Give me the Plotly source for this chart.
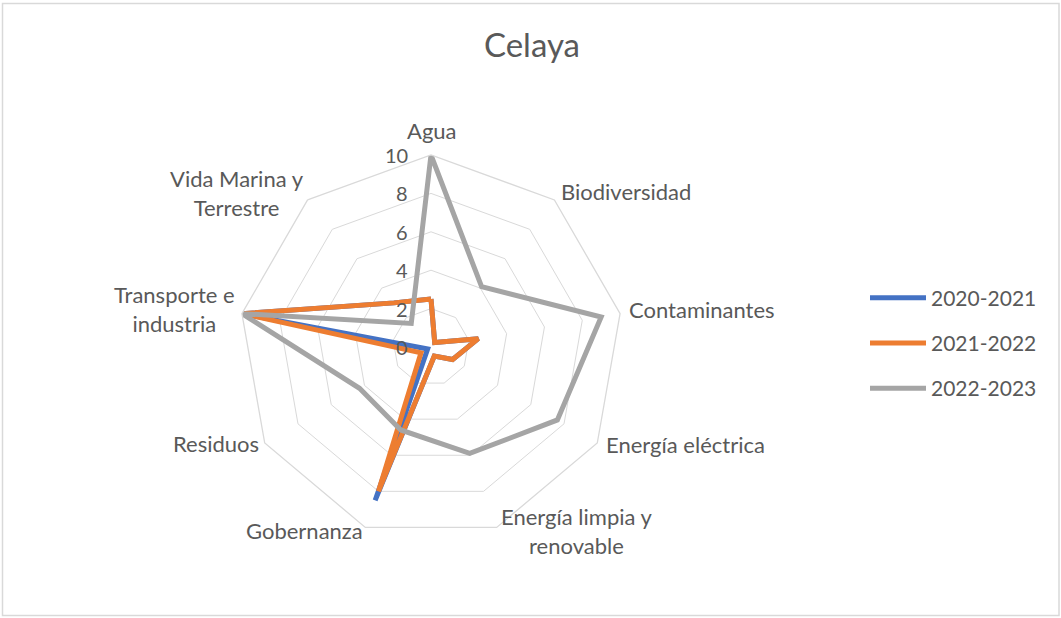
import plotly.graph_objects as go

categories = ["Agua", "Biodiversidad", "Contaminantes", "Energía eléctrica",
              "Energía limpia y renovable", "Gobernanza", "Residuos",
              "Transporte e industria", "Vida Marina y Terrestre"]
tick_labels = ["Agua", "Biodiversidad", "Contaminantes", "Energía eléctrica",
               "Energía limpia y<br>renovable", "Gobernanza", "Residuos",
               "Transporte e<br>industria", "Vida Marina y<br>Terrestre"]
series_names = ["2020-2021", "2021-2022", "2022-2023"]
s2020_2021 = [2.5, 0.3, 2.5, 1.3, 0.5, 8.5, 0.2, 10, 3]
s2021_2022 = [2.5, 0.3, 2.5, 1.3, 0.5, 8.0, 0.6, 10, 3]
s2022_2023 = [10, 4.1, 9, 7.6, 5.9, 4.6, 4.3, 10, 1.6]
radial_ticks = [0, 2, 4, 6, 8, 10]
radial_max = 10

colors = ["#4472C4", "#ED7D31", "#A5A5A5"]
FONT = "Lato"
TXT = "#595959"

# layout: pixel centres of the category labels (Excel-style placement)
label_centres = [(431.5, 130), (626, 192), (701.5, 309), (685, 444), (576.5, 531),
                 (304.5, 530), (215.5, 443), (174, 309), (237, 193)]

fig = go.Figure()
for name, vals, col in zip(series_names, [s2020_2021, s2021_2022, s2022_2023], colors):
    fig.add_trace(go.Scatterpolar(
        r=vals + vals[:1], theta=categories + categories[:1],
        mode="lines", name=name, legendgroup=name,
        line=dict(color=col, width=5, shape="linear"),
    ))

W, H = 1061, 618
cx, cy, R = 431, 347, 192

annotations = [
    dict(text=lbl, x=px / W, y=1 - py / H, xref="paper", yref="paper",
         xanchor="center", yanchor="middle", align="center", showarrow=False,
         font=dict(size=22, color=TXT, family=FONT))
    for lbl, (px, py) in zip(tick_labels, label_centres)
]
# radial tick labels, placed left of the vertical (Agua) axis at each tick value
annotations += [
    dict(text=str(v), x=(cx - 21) / W, y=1 - (cy - R * v / radial_max) / H,
         xref="paper", yref="paper", xanchor="right", yanchor="middle",
         showarrow=False, font=dict(size=20, color=TXT, family=FONT))
    for v in radial_ticks
]

fig.update_layout(
    width=W, height=H,
    margin=dict(l=0, r=0, t=0, b=0),
    paper_bgcolor="white", plot_bgcolor="white",
    font=dict(family=FONT, color=TXT, size=22),
    title=dict(text="Celaya", x=532 / W, y=1 - 45 / H, xanchor="center", yanchor="middle",
               font=dict(size=33, family=FONT, color=TXT)),
    polar=dict(
        domain=dict(x=[(cx - R) / W, (cx + R) / W], y=[1 - (cy + R) / H, 1 - (cy - R) / H]),
        bgcolor="white",
        gridshape="linear",
        radialaxis=dict(range=[0, radial_max], tickvals=radial_ticks, angle=90,
                        showline=False, ticks="", showticklabels=False,
                        gridcolor="#D9D9D9", gridwidth=1.3),
        angularaxis=dict(rotation=90, direction="clockwise", showgrid=False,
                         showline=True, linecolor="#D9D9D9", linewidth=1.3,
                         tickmode="array", tickvals=categories, ticks="",
                         showticklabels=False),
    ),
    annotations=annotations,
    legend=dict(x=865 / W, y=1 - 343 / H, xanchor="left", yanchor="middle",
                font=dict(size=21, color=TXT, family=FONT), tracegroupgap=15,
                itemwidth=56, bgcolor="rgba(0,0,0,0)"),
    shapes=[dict(type="rect", xref="paper", yref="paper", x0=2.5 / W, x1=1 - 2 / W,
                 y0=2.5 / H, y1=1 - 3.5 / H, line=dict(color="#D9D9D9", width=1.5),
                 fillcolor="rgba(0,0,0,0)", layer="below")],
)

fig.write_html("out.html", config={"displayModeBar": False},
               post_script="document.body.style.margin='0';document.body.style.overflow='hidden';")
